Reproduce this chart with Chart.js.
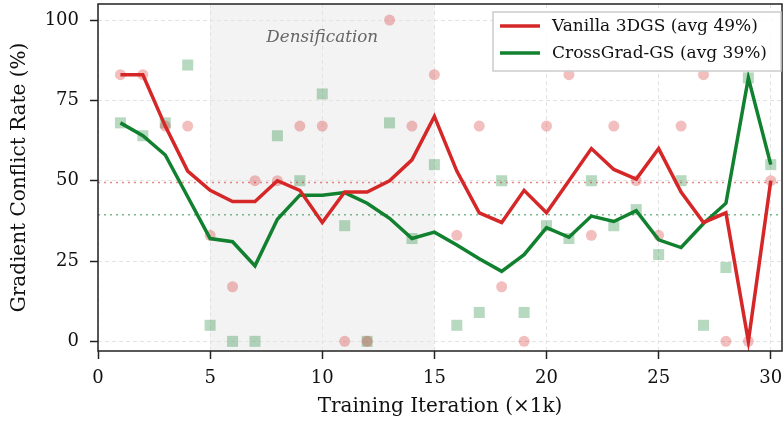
<!DOCTYPE html>
<html>
<head>
<meta charset="utf-8">
<script src="https://cdn.jsdelivr.net/npm/chart.js@4.4.1/dist/chart.umd.min.js"></script>
<style>
  html, body { margin: 0; padding: 0; background: #fff; }
  canvas { display: block; }
</style>
</head>
<body>
<canvas id="conflictChart" width="784" height="421"></canvas>
<script>
const iterations = [1, 2, 3, 4, 5, 6, 7, 8, 9, 10, 11, 12, 13, 14, 15, 16, 17, 18, 19, 20, 21, 22, 23, 24, 25, 26, 27, 28, 29, 30];
// per-iteration raw conflict rates (scatter)
const vanillaRaw = [83, 83, 67, 67, 33, 17, 50, 50, 67, 67, 0, 0, 100, 67, 83, 33, 67, 17, 0, 67, 83, 33, 67, 50, 33, 67, 83, 0, 0, 50];
const crossRaw = [68, 64, 68, 86, 5, 0, 0, 64, 50, 77, 36, 0, 68, 32, 55, 5, 9, 50, 9, 36, 32, 50, 36, 41, 27, 50, 5, 23, 82, 55];
// plotted trend lines
const vanillaLine = [83, 83, 67, 53, 47, 43.5, 43.5, 50, 47, 37, 46.5, 46.5, 50, 56.5, 70, 53, 40, 37, 47, 40, 50, 60, 53.5, 50.5, 60, 46.5, 37, 40, 0, 50];
const crossLine = [68, 64, 58, 45, 32, 31, 23.5, 38, 45.5, 45.5, 46.3, 43, 38.3, 32, 34, 30, 25.7, 21.8, 27, 35.4, 32.4, 39, 37.3, 40.7, 31.6, 29.2, 36.7, 43, 82, 55];
const xTicks = [0, 5, 10, 15, 20, 25, 30];
const yTicks = [0, 25, 50, 75, 100];
const densifyRange = [5, 15];
const seriesNames = ["Vanilla 3DGS", "CrossGrad-GS"];

const RED = "#d62728";
const GREEN = "#11802f";
const FONT = "'DejaVu Serif', serif";

const mean = arr => arr.reduce((a, b) => a + b, 0) / arr.length;
const vanillaAvg = mean(vanillaRaw);
const crossAvg = mean(crossRaw);
const pts = vals => iterations.map((x, i) => ({ x: x, y: vals[i] }));

// shaded densification band, outer frame, label and legend
const decorPlugin = {
  id: "decor",
  beforeDraw(chart) {
    const { ctx, chartArea: a, scales: { x } } = chart;
    ctx.save();
    ctx.fillStyle = "#fff";
    ctx.fillRect(0, 0, chart.width, chart.height);
    ctx.fillStyle = "#f3f3f3";
    const x0 = x.getPixelForValue(densifyRange[0]);
    const x1 = x.getPixelForValue(densifyRange[1]);
    ctx.fillRect(x0, a.top, x1 - x0, a.bottom - a.top);
    ctx.restore();
  },
  afterDatasetsDraw(chart) {
    const { ctx, chartArea: a, scales: { x, y } } = chart;
    ctx.save();
    ctx.fillStyle = "#666";
    ctx.font = "italic 16.8px " + FONT;
    ctx.textAlign = "center";
    ctx.textBaseline = "middle";
    ctx.fillText("Densification", x.getPixelForValue(10), y.getPixelForValue(94.5));

    ctx.strokeStyle = "#222";
    ctx.lineWidth = 1.5;
    ctx.strokeRect(a.left, a.top, a.right - a.left, a.bottom - a.top);

    // legend
    const bx = 493, by = 12, bw = 288, bh = 59;
    ctx.fillStyle = "rgba(255,255,255,0.85)";
    ctx.fillRect(bx, by, bw, bh);
    ctx.strokeStyle = "#ccc";
    ctx.lineWidth = 1.5;
    ctx.strokeRect(bx, by, bw, bh);
    const items = [
      [seriesNames[0] + " (avg " + Math.round(vanillaAvg) + "%)", RED, 26],
      [seriesNames[1] + " (avg " + Math.round(crossAvg) + "%)", GREEN, 53]
    ];
    ctx.font = "17px " + FONT;
    ctx.textAlign = "left";
    items.forEach(([label, color, ly]) => {
      ctx.strokeStyle = color;
      ctx.lineWidth = 3.5;
      ctx.beginPath();
      ctx.moveTo(500, ly);
      ctx.lineTo(540, ly);
      ctx.stroke();
      ctx.fillStyle = "#111";
      ctx.fillText(label, 552, ly + 1);
    });
    ctx.restore();
  }
};

window.addEventListener("load", () => {
  const ctx = document.getElementById("conflictChart").getContext("2d");

  new Chart(ctx, {
    type: "line",
    data: {
      datasets: [
        {
          label: seriesNames[0],
          data: pts(vanillaLine),
          borderColor: RED,
          borderWidth: 3.5,
          pointRadius: 0,
          order: 0
        },
        {
          label: seriesNames[1],
          data: pts(crossLine),
          borderColor: GREEN,
          borderWidth: 3.5,
          pointRadius: 0,
          order: 0
        },
        {
          label: "vanilla mean",
          data: [{ x: 0, y: vanillaAvg }, { x: 30.5, y: vanillaAvg }],
          borderColor: "rgba(214,39,40,0.55)",
          borderWidth: 1.5,
          borderDash: [2, 4],
          pointRadius: 0,
          order: 1
        },
        {
          label: "cross mean",
          data: [{ x: 0, y: crossAvg }, { x: 30.5, y: crossAvg }],
          borderColor: "rgba(17,128,47,0.55)",
          borderWidth: 1.5,
          borderDash: [2, 4],
          pointRadius: 0,
          order: 1
        },
        {
          label: "vanilla raw",
          data: pts(vanillaRaw),
          showLine: false,
          pointStyle: "circle",
          pointRadius: 5.5,
          pointBorderWidth: 0,
          pointBackgroundColor: "rgba(214,39,40,0.3)",
          order: 2
        },
        {
          label: "cross raw",
          data: pts(crossRaw),
          showLine: false,
          pointStyle: "rect",
          pointRadius: 7.8,
          pointBorderWidth: 0,
          pointBackgroundColor: "rgba(17,128,47,0.3)",
          order: 2
        }
      ]
    },
    options: {
      responsive: false,
      animation: false,
      layout: { autoPadding: false, padding: { left: 0, right: 2, top: 4, bottom: 0 } },
      plugins: {
        legend: { display: false },
        tooltip: { enabled: false }
      },
      scales: {
        x: {
          type: "linear",
          min: 0,
          max: 30.5,
          afterFit: s => {
            s.height = 70;
            s.paddingLeft = 0;
            s.paddingRight = 0;
          },
          afterBuildTicks: s => { s.ticks = xTicks.map(v => ({ value: v })); },
          grid: {
            color: "#e3e3e3",
            tickColor: "#222",
            tickLength: 8,
            tickWidth: 1.5,
            tickBorderDash: []
          },
          border: { display: false, dash: [4, 3] },
          ticks: {
            color: "#111",
            padding: 9,
            maxRotation: 0,
            font: { family: FONT, size: 18 }
          },
          title: {
            display: true,
            text: "Training Iteration (×1k)",
            color: "#111",
            padding: { top: 2, bottom: 2 },
            font: { family: FONT, size: 20 }
          }
        },
        y: {
          min: -3,
          max: 105,
          afterFit: s => {
            s.width = 98;
            s.paddingTop = 0;
            s.paddingBottom = 0;
          },
          afterBuildTicks: s => { s.ticks = yTicks.map(v => ({ value: v })); },
          grid: {
            color: "#e3e3e3",
            tickColor: "#222",
            tickLength: 8,
            tickWidth: 1.5,
            tickBorderDash: []
          },
          border: { display: false, dash: [4, 3] },
          ticks: {
            color: "#111",
            padding: 11,
            font: { family: FONT, size: 18 }
          },
          title: {
            display: true,
            text: "Gradient Conflict Rate (%)",
            color: "#111",
            padding: { top: 8, bottom: 2 },
            font: { family: FONT, size: 20 }
          }
        }
      }
    },
    plugins: [decorPlugin]
  });
});
</script>
</body>
</html>
